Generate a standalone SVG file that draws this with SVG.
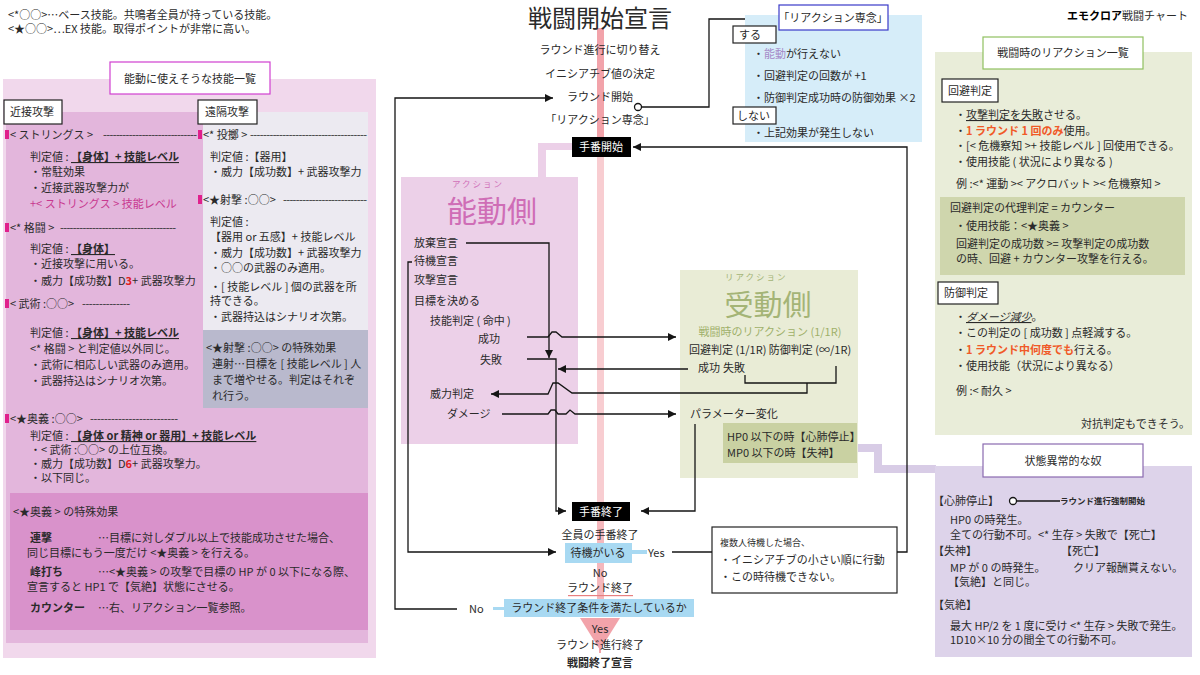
<svg xmlns="http://www.w3.org/2000/svg" width="1200" height="675" viewBox="0 0 1200 675">
<defs>
<style>
.t{font-family:"Noto Sans CJK JP","Noto Sans",sans-serif;font-size:11px;fill:#2a2a2a}
.c{text-anchor:middle}
.e{text-anchor:end}
.b{font-weight:bold}
.u{text-decoration:underline}
.pk{fill:#c8378f}
.rd{fill:#e02020;font-weight:bold}
.or{fill:#f05a28;font-weight:bold}
.wt{fill:#ffffff}
.ln{fill:none;stroke:#151515;stroke-width:1.3}
.box{fill:#ffffff;stroke:#222;stroke-width:1.2}
.blk{fill:#000000}
.blue{fill:#a8d9f2}
.mk{fill:#e0208c}
.ruby{font-size:8.5px;letter-spacing:2px}
</style>
<marker id="ah" viewBox="0 0 10 10" refX="10" refY="5" markerWidth="8" markerHeight="8" markerUnits="userSpaceOnUse" orient="auto"><path d="M0,0 L10,5 L0,10 z" fill="#151515"/></marker>
</defs>
<rect width="1200" height="675" fill="#ffffff"/>

<g id="legend">
<text class="t" x="8" y="19">&lt;*○○&gt;…ベース技能。共鳴者全員が持っている技能。</text>
<text class="t" x="8" y="33">&lt;★○○&gt;…EX 技能。取得ポイントが非常に高い。</text>
</g>

<g id="chart-title">
<text class="t e" x="1188" y="20"><tspan class="b" fill="#000">エモクロア</tspan>戦闘チャート</text>
</g>

<g id="skills-panel">
<rect x="3" y="79" width="373" height="579" fill="#f1d8ec"/>
<rect x="6" y="112" width="362" height="531" fill="#e3b6dc"/>
<rect x="203" y="112" width="165" height="218" fill="#eceaf1"/>
<rect x="203" y="330" width="165" height="78" fill="#b9b9cd"/>
<rect x="10" y="493" width="358" height="137" fill="#d992cb"/>
<rect x="110" y="62" width="160" height="32" fill="#ffffff" stroke="#d040d0" stroke-width="1.2"/>
<text class="t c" x="190" y="83">能動に使えそうな技能一覧</text>
<rect class="box" x="4" y="100" width="58" height="24"/>
<text class="t" x="10" y="116">近接攻撃</text>
<rect class="box" x="198" y="100" width="59" height="24"/>
<text class="t" x="205" y="116">遠隔攻撃</text>

<rect class="mk" x="5" y="130" width="4" height="9"/>
<text class="t" x="10" y="139">&lt; ストリングス &gt;</text>
<text class="t" x="103" y="139" textLength="94" lengthAdjust="spacing">-----------------------------</text>
<text class="t" x="30" y="161">判定値 : <tspan class="b u">【身体】+ 技能レベル</tspan></text>
<text class="t" x="30" y="176">・常駐効果</text>
<text class="t" x="30" y="192">・近接武器攻撃力が</text>
<text class="t pk" x="30" y="208">+&lt; ストリングス &gt; 技能レベル</text>

<rect class="mk" x="5" y="223" width="4" height="9"/>
<text class="t" x="10" y="232">&lt;* 格闘 &gt;</text>
<text class="t" x="60" y="232" textLength="116" lengthAdjust="spacing">------------------------------------</text>
<text class="t" x="30" y="253">判定値 : <tspan class="b u">【身体】</tspan></text>
<text class="t" x="30" y="268">・近接攻撃に用いる。</text>
<text class="t" x="30" y="285">・威力【成功数】D<tspan class="rd">3</tspan>+ 武器攻撃力</text>

<rect class="mk" x="5" y="299" width="4" height="9"/>
<text class="t" x="10" y="308">&lt; 武術 :○○&gt;</text>
<text class="t" x="82" y="308" textLength="48" lengthAdjust="spacing">--------------</text>
<text class="t" x="30" y="337">判定値 : <tspan class="b u">【身体】+ 技能レベル</tspan></text>
<text class="t" x="30" y="353">&lt;* 格闘 &gt; と判定値以外同じ。</text>
<text class="t" x="30" y="369">・武術に相応しい武器のみ適用。</text>
<text class="t" x="30" y="385">・武器持込はシナリオ次第。</text>

<rect class="mk" x="5" y="414" width="4" height="9"/>
<text class="t" x="10" y="423">&lt;★奥義 :○○&gt;</text>
<text class="t" x="90" y="423" textLength="88" lengthAdjust="spacing">-------------------------</text>
<text class="t" x="30" y="440">判定値 : <tspan class="b u">【身体 or 精神 or 器用】+ 技能レベル</tspan></text>
<text class="t" x="30" y="454">・&lt; 武術 :○○&gt; の上位互換。</text>
<text class="t" x="30" y="468">・威力【成功数】D<tspan class="rd">6</tspan>+ 武器攻撃力。</text>
<text class="t" x="30" y="482">・以下同じ。</text>

<rect class="mk" x="198" y="130" width="4" height="9"/>
<text class="t" x="203" y="139">&lt;* 投擲 &gt;</text>
<text class="t" x="250" y="139" textLength="117" lengthAdjust="spacing">------------------------------------</text>
<text class="t" x="210" y="161">判定値 :【器用】</text>
<text class="t" x="210" y="176">・威力【成功数】+ 武器攻撃力</text>
<rect class="mk" x="198" y="195" width="4" height="9"/>
<text class="t" x="203" y="204">&lt;★射撃 :○○&gt;</text>
<text class="t" x="283" y="204" textLength="84" lengthAdjust="spacing">--------------------------</text>
<text class="t" x="210" y="226">判定値 :</text>
<text class="t" x="210" y="241">【器用 or 五感】+ 技能レベル</text>
<text class="t" x="210" y="257">・威力【成功数】+ 武器攻撃力</text>
<text class="t" x="210" y="272">・○○の武器のみ適用。</text>
<text class="t" x="210" y="291">・[ 技能レベル ] 個の武器を所</text>
<text class="t" x="210" y="305">持できる。</text>
<text class="t" x="210" y="321">・武器持込はシナリオ次第。</text>

<text class="t" x="206" y="352">&lt;★射撃 :○○&gt; の特殊効果</text>
<text class="t" x="212" y="368">連射…目標を [ 技能レベル ] 人</text>
<text class="t" x="212" y="384">まで増やせる。判定はそれぞ</text>
<text class="t" x="212" y="400">れ行う。</text>

<text class="t" x="13" y="516">&lt;★奥義 &gt; の特殊効果</text>
<text class="t b" x="30" y="542">連撃</text>
<text class="t" x="98" y="542">…目標に対しダブル以上で技能成功させた場合、</text>
<text class="t" x="27" y="557">同じ目標にもう一度だけ &lt;★奥義 &gt; を行える。</text>
<text class="t b" x="30" y="576">峰打ち</text>
<text class="t" x="98" y="576">…&lt;★奥義 &gt; の攻撃で目標の HP が 0 以下になる際、</text>
<text class="t" x="27" y="591">宣言すると HP1 で【気絶】状態にさせる。</text>
<text class="t b" x="30" y="612">カウンター</text>
<text class="t" x="98" y="612">…右、リアクション一覧参照。</text>
</g>

<g id="main-line">
<rect x="597" y="28" width="7" height="110" fill="#f2a3aa"/>
<rect x="597" y="157" width="7" height="345" fill="#f8cdd1"/>
<rect x="597" y="520" width="7" height="80" fill="#f5b8bd"/>
<polygon points="580,618 620,618 600,650" fill="#f2a3aa"/>
<rect x="599" y="648" width="2" height="5" fill="#f2a3aa"/>
<rect x="545" y="143" width="28" height="7" fill="#ecd0e8"/>
<rect x="538" y="143" width="8" height="34" fill="#ecd0e8"/>
<path d="M856,448 H878 V469 H936" fill="none" stroke="#d8cce6" stroke-width="8"/>
</g>

<g id="start"><text class="t c" x="600" y="27" style="font-size:24px">戦闘開始宣言</text></g>
<g id="round-switch"><text class="t c" x="600" y="54">ラウンド進行に切り替え</text></g>
<g id="initiative"><text class="t c" x="600" y="78">イニシアチブ値の決定</text></g>
<g id="round-start"><text class="t c" x="600" y="101">ラウンド開始</text></g>
<g id="reaction-focus-step"><text class="t c" x="600" y="124">「リアクション専念」</text></g>
<g id="turn-start"><rect class="blk" x="572" y="137" width="59" height="20"/><text class="t c wt" x="601" y="151">手番開始</text></g>

<g id="active-side">
<rect x="401" y="177" width="177" height="267" fill="#ecd0e8"/>
<text class="t ruby" x="452" y="187" style="fill:#d070b8">アクション</text>
<text class="t c" x="492" y="222" style="font-size:30px;fill:#cf6db6">能動側</text>
<text class="t" x="414" y="247">放棄宣言</text>
<text class="t" x="414" y="265">待機宣言</text>
<text class="t" x="414" y="284">攻撃宣言</text>
<text class="t" x="414" y="305">目標を決める</text>
<text class="t" x="430" y="325">技能判定 ( 命中 )</text>
<text class="t" x="478" y="343">成功</text>
<text class="t" x="480" y="364">失敗</text>
<text class="t" x="430" y="398">威力判定</text>
<text class="t" x="447" y="418">ダメージ</text>
</g>

<g id="passive-side">
<rect x="680" y="270" width="178" height="208" fill="#e9ecd6"/>
<text class="t ruby" x="725" y="280" style="fill:#a4b476">リアクション</text>
<text class="t c" x="768" y="316" style="font-size:29px;fill:#a4b476">受動側</text>
<text class="t c" x="770" y="336" style="fill:#9fb06a">戦闘時のリアクション (1/1R)</text>
<text class="t" x="689" y="354">回避判定 (1/1R)  防御判定 (∞/1R)</text>
<text class="t" x="698" y="372">成功</text>
<text class="t" x="723" y="372">失敗</text>
<text class="t" x="690" y="418">パラメーター変化</text>
<rect x="723" y="423" width="134" height="40" fill="#c9d1a2"/>
<text class="t" x="727" y="441">HP0 以下の時【心肺停止】</text>
<text class="t" x="727" y="457">MP0 以下の時【失神】</text>
</g>

<g id="turn-end"><rect class="blk" x="572" y="502" width="58" height="19"/><text class="t c wt" x="601" y="516">手番終了</text></g>
<g id="all-turns-end"><text class="t c" x="600" y="539">全員の手番終了</text></g>
<g id="waiting">
<rect class="blue" x="565" y="543" width="67" height="20"/>
<text class="t c" x="598" y="557">待機がいる</text>
<rect class="blue" x="632" y="550" width="15" height="4"/>
<text class="t" x="648" y="557">Yes</text>
<text class="t c" x="600" y="577">No</text>
</g>
<g id="round-end">
<text class="t c" x="600" y="592">ラウンド終了</text>
<rect x="568" y="595" width="65" height="1.2" fill="#e88080"/>
</g>
<g id="round-end-cond">
<rect class="blue" x="504" y="599" width="190" height="18"/>
<text class="t c" x="599" y="612">ラウンド終了条件を満たしているか</text>
<rect class="blue" x="493" y="607" width="11" height="3"/>
<text class="t" x="469" y="613">No</text>
<text class="t c" x="600" y="633">Yes</text>
</g>
<g id="round-progress-end"><text class="t c" x="600" y="649">ラウンド進行終了</text></g>
<g id="battle-end"><text class="t c b" x="600" y="667">戦闘終了宣言</text></g>

<g id="multi-wait-note">
<rect class="box" x="712" y="527" width="185" height="66"/>
<text class="t" x="720" y="546" style="font-size:9px">複数人待機した場合、</text>
<text class="t" x="720" y="564">・イニシアチブの小さい順に行動</text>
<text class="t" x="720" y="581">・この時待機できない。</text>
</g>

<g id="reaction-focus-panel">
<rect x="745" y="15" width="177" height="127" fill="#d6edf9"/>
<rect x="779" y="5" width="109" height="25" fill="#ffffff" stroke="#3a3ac8" stroke-width="1.2"/>
<text class="t c" x="833" y="22">「リアクション専念」</text>
<rect class="box" x="733" y="26" width="43" height="17"/>
<text class="t" x="739" y="39">する</text>
<text class="t" x="753" y="58">・<tspan fill="#a58ac8">能動</tspan>が行えない</text>
<text class="t" x="753" y="80">・回避判定の回数が +1</text>
<text class="t" x="753" y="102">・防御判定成功時の防御効果 ×2</text>
<rect class="box" x="733" y="107" width="43" height="17"/>
<text class="t" x="737" y="120">しない</text>
<text class="t" x="753" y="137">・上記効果が発生しない</text>
</g>

<g id="reaction-list">
<rect x="935" y="52" width="257" height="383" fill="#e9edd9"/>
<rect x="983" y="37" width="160" height="32" fill="#ffffff" stroke="#90c060" stroke-width="1.2"/>
<text class="t c" x="1063" y="57">戦闘時のリアクション一覧</text>
<rect class="box" x="942" y="79" width="56" height="23"/>
<text class="t" x="948" y="95">回避判定</text>
<text class="t" x="955" y="119">・<tspan class="u">攻撃判定を失敗</tspan>させる。</text>
<text class="t" x="955" y="135">・<tspan class="or">1 ラウンド 1 回のみ</tspan>使用。</text>
<text class="t" x="955" y="150">・[&lt; 危機察知 &gt;+ 技能レベル ] 回使用できる。</text>
<text class="t" x="955" y="166">・使用技能 ( 状況により異なる )</text>
<text class="t" x="956" y="188">例 :&lt;* 運動 &gt;&lt; アクロバット &gt;&lt; 危機察知 &gt;</text>
<rect x="940" y="197" width="245" height="78" fill="#cfd6ad"/>
<text class="t" x="950" y="212">回避判定の代理判定 = カウンター</text>
<text class="t" x="955" y="230">・使用技能：&lt;★奥義 &gt;</text>
<text class="t" x="956" y="248">回避判定の成功数 &gt;= 攻撃判定の成功数</text>
<text class="t" x="956" y="263">の時、回避 + カウンター攻撃を行える。</text>
<rect class="box" x="938" y="282" width="60" height="22"/>
<text class="t" x="944" y="297">防御判定</text>
<text class="t" x="955" y="321">・<tspan class="u" font-style="italic">ダメージ減少</tspan>。</text>
<text class="t" x="955" y="337">・この判定の [ 成功数 ] 点軽減する。</text>
<text class="t" x="955" y="354">・<tspan class="or">1 ラウンド中何度でも</tspan>行える。</text>
<text class="t" x="955" y="370">・使用技能（状況により異なる）</text>
<text class="t" x="956" y="395">例 :&lt; 耐久 &gt;</text>
<text class="t e" x="1190" y="428">対抗判定もできそう。</text>
</g>

<g id="status-panel">
<rect x="935" y="466" width="257" height="191" fill="#ddd3ea"/>
<rect x="983" y="444" width="160" height="33" fill="#ffffff" stroke="#8a6ab0" stroke-width="1.2"/>
<text class="t c" x="1063" y="465">状態異常的な奴</text>
<text class="t" x="933" y="505">【心肺停止】</text>
<circle cx="1013" cy="501" r="3.5" fill="#ffffff" stroke="#151515" stroke-width="1.3"/>
<path class="ln" d="M1016.5,501 H1060"/>
<text class="t b" x="1060" y="504" style="font-size:8.5px">ラウンド進行強制開始</text>
<text class="t" x="950" y="524">HP0 の時発生。</text>
<text class="t" x="950" y="539">全ての行動不可。&lt;* 生存 &gt; 失敗で【死亡】</text>
<text class="t" x="933" y="555">【失神】</text>
<text class="t" x="1061" y="555">【死亡】</text>
<text class="t" x="950" y="572">MP が 0 の時発生。</text>
<text class="t" x="1073" y="572">クリア報酬貰えない。</text>
<text class="t" x="948" y="586">【気絶】と同じ。</text>
<text class="t" x="933" y="609">【気絶】</text>
<text class="t" x="950" y="630">最大 HP/2 を 1 度に受け &lt;* 生存 &gt; 失敗で発生。</text>
<text class="t" x="950" y="644">1D10×10 分の間全ての行動不可。</text>
</g>

<g id="connectors">
<path class="ln" d="M457,609 H395 V98 H553" marker-end="url(#ah)"/>
<path class="ln" d="M466,243 H549 V358" marker-end="url(#ah)"/>
<path class="ln" d="M412,262 H408 V552 H556" marker-end="url(#ah)"/>
<path class="ln" d="M527,337 H548 L552,332 H556 L562,337 H676" marker-end="url(#ah)"/>
<path class="ln" d="M527,359 H556 V511 H566" marker-end="url(#ah)"/>
<path class="ln" d="M688,369 H558" marker-end="url(#ah)"/>
<path class="ln" d="M745,375 V383 H836 V366"/>
<path class="ln" d="M807,383 V393 H572 L558,383 H553 L548,394 H491" marker-end="url(#ah)"/>
<path class="ln" d="M502,414 H548 L551,410 H555 L558,414 H566 L570,410 L575,414 H676" marker-end="url(#ah)"/>
<path class="ln" d="M695,424 V511 H641" marker-end="url(#ah)"/>
<path class="ln" d="M897,552 H907 V147 H633" marker-end="url(#ah)"/>
<circle cx="638" cy="107" r="3.5" fill="#ffffff" stroke="#151515" stroke-width="1.3"/>
<path class="ln" d="M641.5,107 H709 V19 H745"/>
<path class="ln" d="M672,552 H712"/>
</g>
</svg>
